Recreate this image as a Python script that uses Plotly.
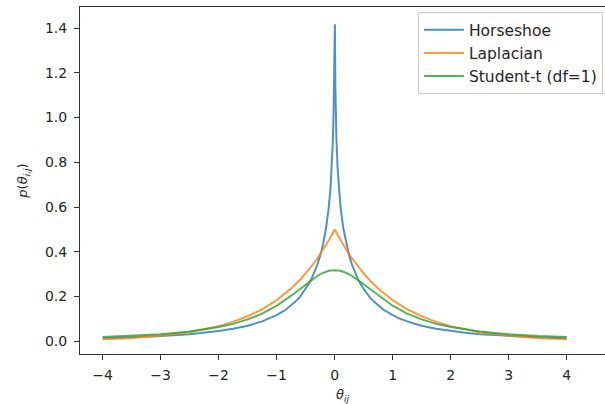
import plotly.graph_objects as go

# Horseshoe prior
x_hs = [-4.0, -3.5, -3.0, -2.5, -2.25, -2.0, -1.75, -1.5, -1.25, -1.1, -1.0, -0.85, -0.75,
        -0.65, -0.6, -0.5, -0.45, -0.4, -0.35, -0.3, -0.25, -0.2, -0.15, -0.1, -0.07, -0.05,
        -0.03, -0.02, -0.012, -0.004,
        0.004, 0.012, 0.02, 0.03, 0.05, 0.07, 0.1, 0.15, 0.2, 0.25, 0.3, 0.35, 0.4, 0.45,
        0.5, 0.6, 0.65, 0.75, 0.85, 1.0, 1.1, 1.25, 1.5, 1.75, 2.0, 2.25, 2.5, 3.0, 3.5, 4.0]
y_hs = [0.014, 0.018, 0.024, 0.032, 0.038, 0.046, 0.056, 0.070, 0.089, 0.104, 0.117, 0.140,
        0.161, 0.184, 0.199, 0.234, 0.255, 0.279, 0.307, 0.341, 0.383, 0.435, 0.504, 0.603,
        0.692, 0.777, 0.905, 1.008, 1.138, 1.417,
        1.417, 1.138, 1.008, 0.905, 0.777, 0.692, 0.603, 0.504, 0.435, 0.383, 0.341, 0.307,
        0.279, 0.255, 0.234, 0.199, 0.184, 0.161, 0.140, 0.117, 0.104, 0.089, 0.070, 0.056,
        0.046, 0.038, 0.032, 0.024, 0.018, 0.014]

# Laplacian and Student-t (df=1)
x_o = [-4.0, -3.5, -3.0, -2.5, -2.0, -1.75, -1.5, -1.25, -1.0, -0.75, -0.6, -0.5, -0.4, -0.3,
       -0.2, -0.1, 0.0, 0.1, 0.2, 0.3, 0.4, 0.5, 0.6, 0.75, 1.0, 1.25, 1.5, 1.75, 2.0, 2.5,
       3.0, 3.5, 4.0]
y_lap = [0.009, 0.015, 0.025, 0.041, 0.068, 0.087, 0.112, 0.143, 0.184, 0.236, 0.274, 0.303,
         0.335, 0.370, 0.409, 0.452, 0.500, 0.452, 0.409, 0.370, 0.335, 0.303, 0.274, 0.236,
         0.184, 0.143, 0.112, 0.087, 0.068, 0.041, 0.025, 0.015, 0.009]
y_st = [0.019, 0.024, 0.032, 0.044, 0.064, 0.078, 0.098, 0.124, 0.159, 0.204, 0.234, 0.255,
        0.274, 0.292, 0.306, 0.315, 0.318, 0.315, 0.306, 0.292, 0.274, 0.255, 0.234, 0.204,
        0.159, 0.124, 0.098, 0.078, 0.064, 0.044, 0.032, 0.024, 0.019]

x_ticks = [-4, -3, -2, -1, 0, 1, 2, 3, 4]
x_tick_labels = ["−4", "−3", "−2", "−1", "0", "1", "2", "3", "4"]
y_ticks = [0.0, 0.2, 0.4, 0.6, 0.8, 1.0, 1.2, 1.4]

names = ["Horseshoe", "Laplacian", "Student-t (df=1)"]
colors = ["rgba(31,119,180,0.8)", "rgba(255,127,14,0.8)", "rgba(44,160,44,0.8)"]

fig = go.Figure()
for i, (xs, ys) in enumerate([(x_hs, y_hs), (x_o, y_lap), (x_o, y_st)]):
    fig.add_trace(go.Scatter(x=xs, y=ys, mode="lines", name=names[i],
                             legendgroup=names[i],
                             line=dict(color=colors[i], width=2)))

txt = dict(family="DejaVu Sans", size=14, color="#262626")
fig.update_layout(
    width=605, height=404,
    margin=dict(l=80, r=0, t=7, b=50, autoexpand=False),
    paper_bgcolor="white", plot_bgcolor="white",
    font=txt,
    showlegend=True,
    legend=dict(x=0.996, y=0.985, xanchor="right", yanchor="top",
                bgcolor="rgba(255,255,255,0.8)", bordercolor="#cccccc", borderwidth=1,
                font=dict(family="DejaVu Sans", size=15.5, color="#262626"),
                tracegroupgap=0, itemwidth=40),
    xaxis=dict(range=[-4.39, 4.66], tickvals=x_ticks, ticktext=x_tick_labels,
               automargin=False, ticklabelstandoff=3,
               showgrid=False, zeroline=False, showline=True, linecolor="#333333", linewidth=1,
               mirror=True, ticks="outside", ticklen=5, tickcolor="#333333",
               title=dict(text="<i>θ</i><sub><i>ij</i></sub>", standoff=10,
                          font=dict(family="DejaVu Sans", size=13, color="#262626"))),
    yaxis=dict(range=[-0.0566, 1.494], tickvals=y_ticks, tickformat=".1f",
               automargin=False, ticklabelstandoff=4,
               showgrid=False, zeroline=False, showline=True, linecolor="#333333", linewidth=1,
               ticks="outside", ticklen=5, tickcolor="#333333",
               title=dict(text="<i>p</i>(<i>θ</i><sub><i>i,j</i></sub>)", standoff=14,
                          font=dict(family="DejaVu Sans", size=13, color="#262626"))),
)
fig.write_html("out.html", config={"displayModeBar": False},
               post_script="document.body.style.margin='0';document.body.style.overflow='hidden';")
